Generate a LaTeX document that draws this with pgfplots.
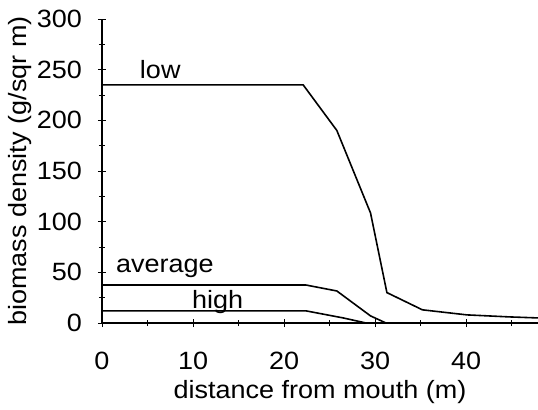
\documentclass[border=0pt]{standalone}
\usepackage{fontspec}
\setmainfont{Liberation Sans}[FakeStretch=1.08]
\usepackage{pgfplots}
\pgfplotsset{compat=1.18}
\begin{document}
\begin{tikzpicture}
\begin{axis}[
  at={(0,0)},anchor=origin,
  scale only axis,width=436bp,height=304bp,
  xmin=0,xmax=47.9,ymin=0,ymax=300,
  axis x line=bottom,axis y line=left,
  axis line style={line width=1.9pt,-},
  xtick={0,10,20,30,40},ytick={0,50,100,150,200,250,300},
  minor xtick={5,15,25,35,45},minor ytick={25,75,125,175,225,275},
  tick align=center,
  major tick length=8bp,minor tick length=6bp,
  every tick/.style={black,line width=1pt},
  font=\fontsize{25bp}{30bp}\selectfont,
  /pgf/number format/assume math mode=true,
  xticklabel style={anchor=north,inner sep=0pt,yshift=-25bp},
  yticklabel style={anchor=east,inner sep=0pt,xshift=-16bp},
  xlabel={distance from mouth (m)},
  ylabel={biomass density (g/sqr m)},
  xlabel style={at={(axis description cs:0.5,0)},anchor=center,yshift=-69bp},
  ylabel style={at={(axis description cs:0,0.5)},anchor=center,rotate=0,yshift=82bp},
  clip=false,
]
% low
\addplot[black,line width=1.6pt] coordinates {(0,235)(22.1,235)(25.8,190)(29.5,108.6)(31.3,30)(35.2,13)(40.1,8)(44.8,6)(47.9,5)};
% average
\addplot[black,line width=1.6pt] coordinates {(0,37.5)(22.4,37.5)(25.8,31.6)(29.5,7)(31.2,0)};
% high
\addplot[black,line width=1.6pt] coordinates {(0,12)(22.4,12)(26.5,5)(29,0)};
\node at (axis cs:6.4,250) {low};
\node at (axis cs:6.9,54) {average};
\node at (axis cs:12.7,21) {high};
\end{axis}
\pgfresetboundingbox
\useasboundingbox (-102bp,-87bp) rectangle (436bp,323bp);
\end{tikzpicture}
\end{document}
